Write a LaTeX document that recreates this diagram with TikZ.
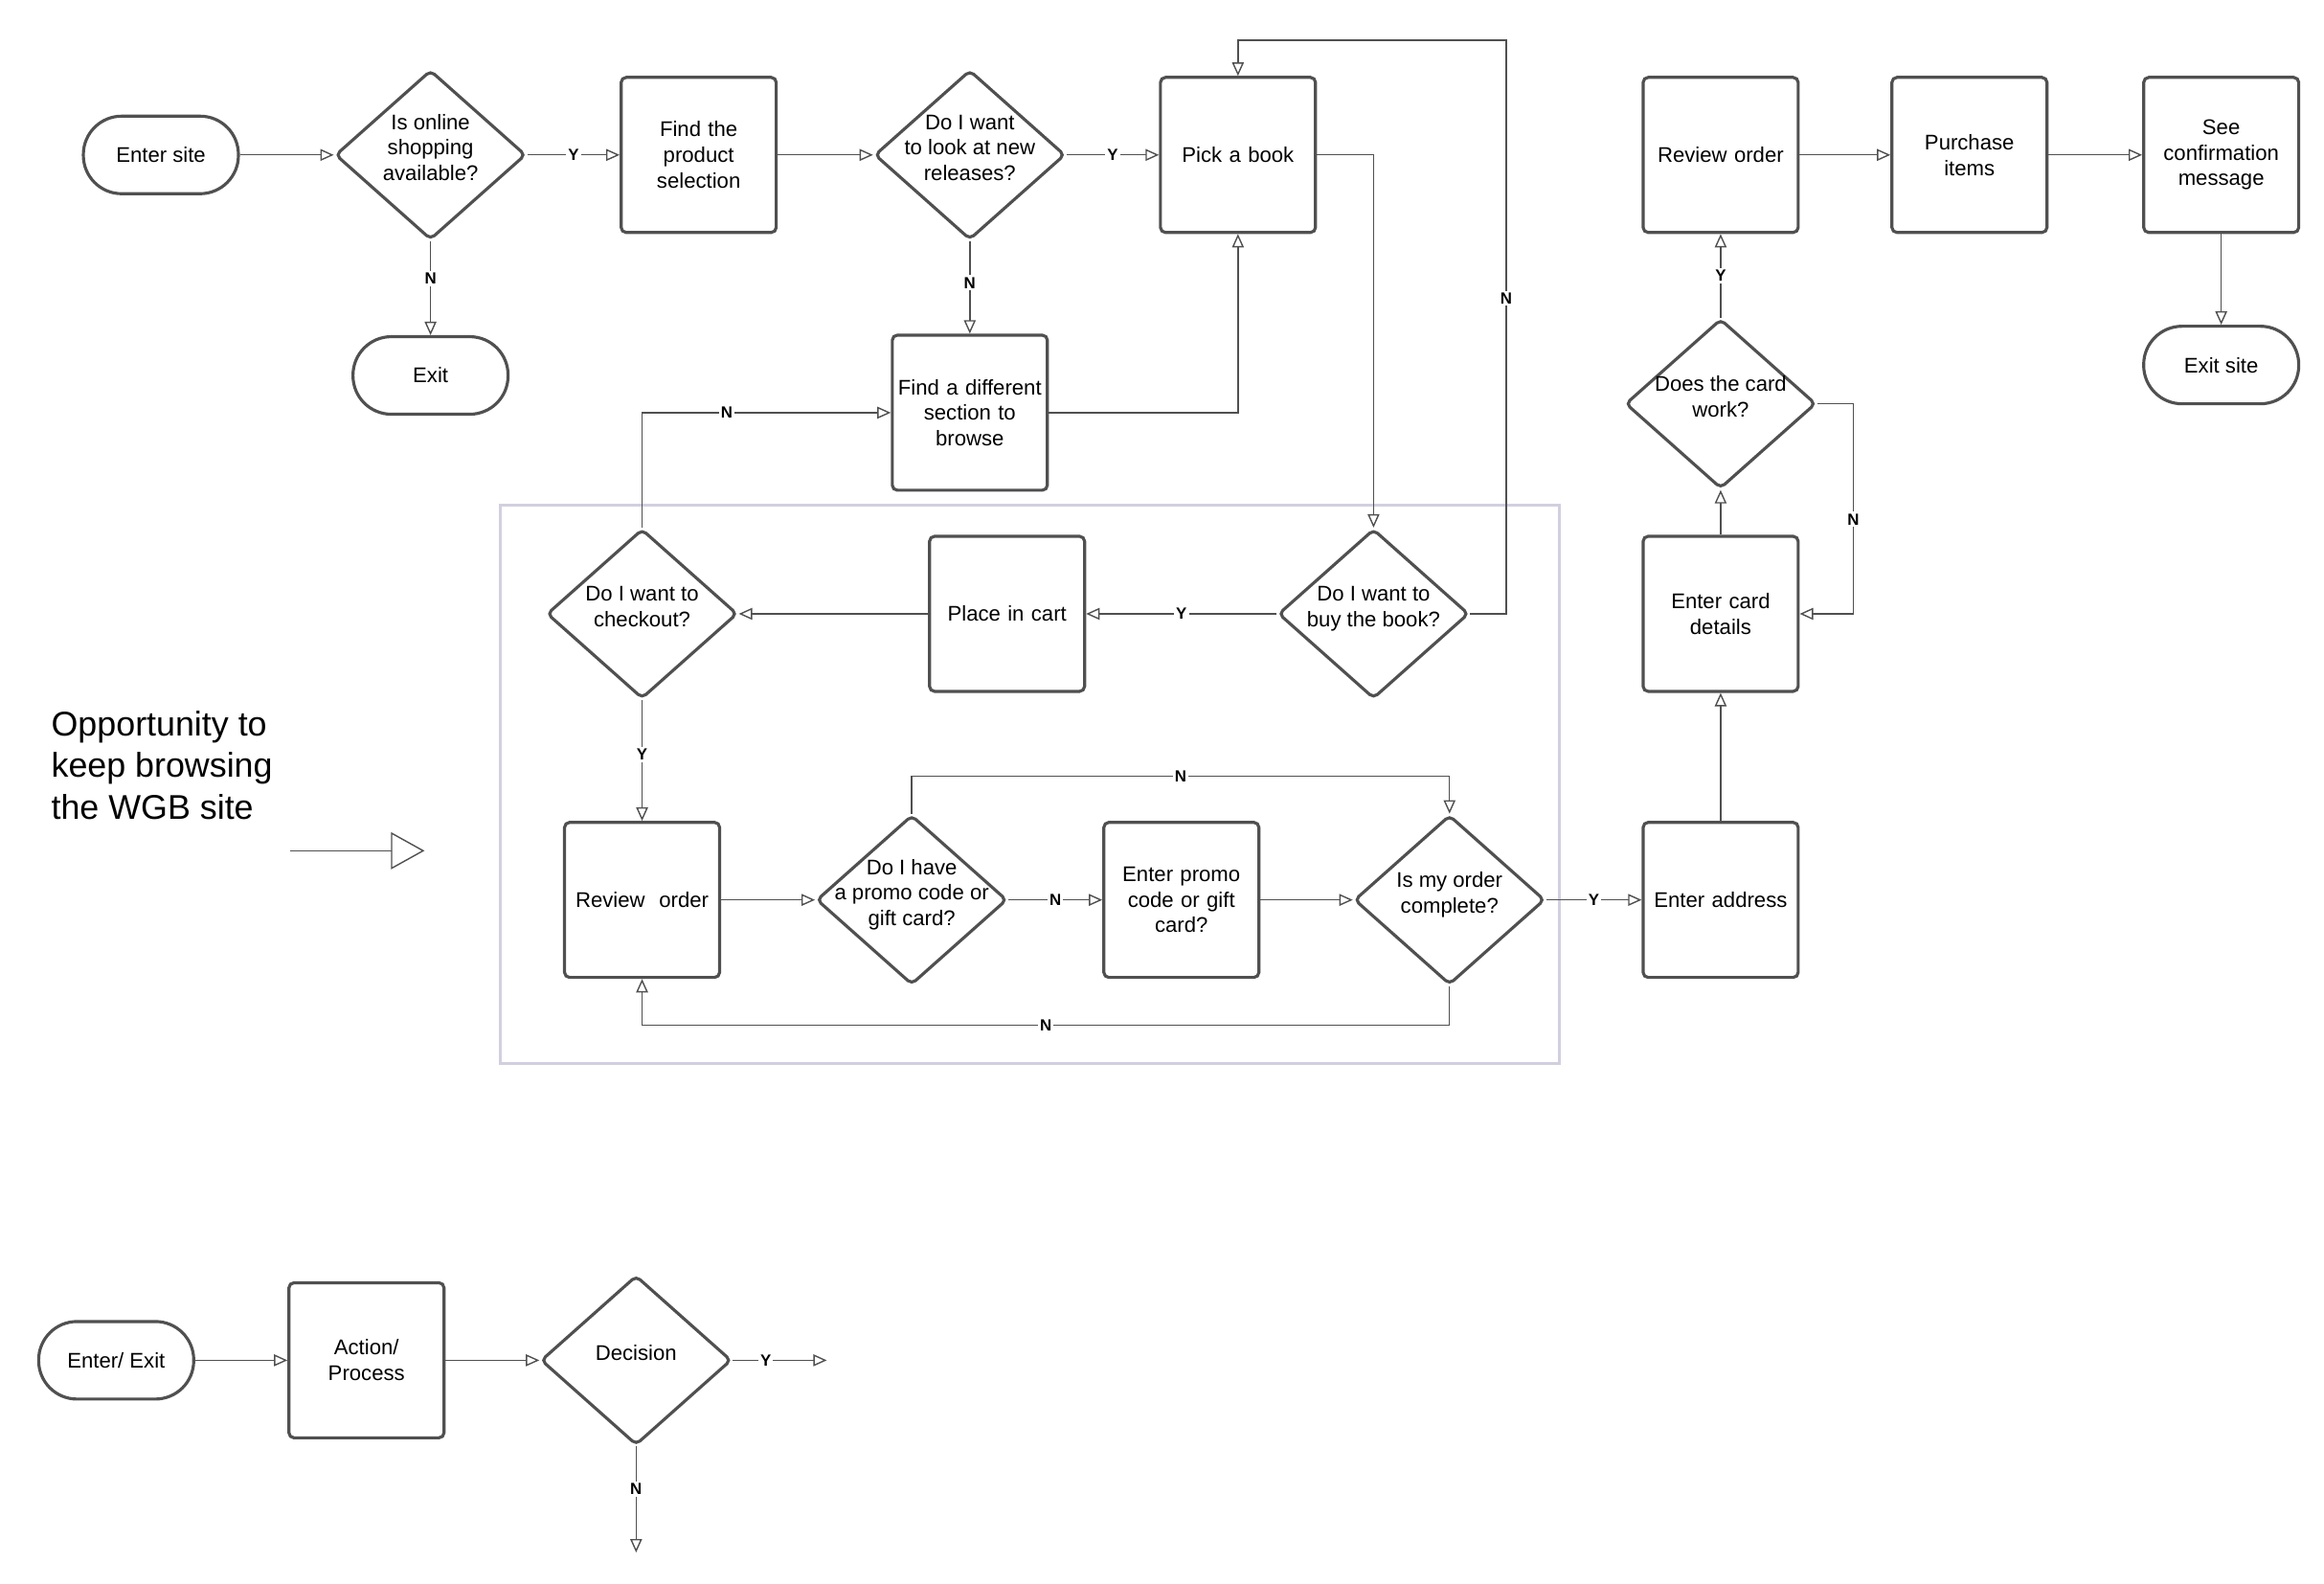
\documentclass[tikz,border=0pt]{standalone}
\usepackage{fontspec}
\setmainfont{Liberation Sans}
\usepackage{xcolor}
\usetikzlibrary{positioning,shapes.geometric,arrows.meta}
\definecolor{edge}{HTML}{505050}
\definecolor{frame}{HTML}{D2CFE0}
\newcommand{\dtext}[1]{\smash{\makebox[0pt]{\begin{tabular}{@{}c@{}}#1\end{tabular}}}}
\tikzstyle{process}=[rectangle, draw=edge, line width=0.9pt, rounded corners=1.5pt,
        minimum width=1.62cm, minimum height=1.62cm, text width=1.5cm, align=center,
        inner sep=0pt, font=\fontsize{6.3}{7.6}\selectfont]
\tikzstyle{terminal}=[rectangle, draw=edge, line width=0.9pt, rounded corners=0.4cm,
        minimum width=1.62cm, minimum height=0.81cm, align=center,
        inner sep=0pt, font=\fontsize{6.3}{7.6}\selectfont]
\tikzstyle{choice}=[diamond, draw=edge, line width=0.9pt, rounded corners=1.5pt,
        minimum width=1.99cm, minimum height=1.77cm, inner sep=0pt,
        font=\fontsize{6.3}{7.6}\selectfont]
\tikzstyle{flow}=[draw=edge, line width=0.4pt, -{Triangle[open,length=4pt,width=3.5pt]}]
\tikzstyle{lbl}=[fill=white, inner sep=0.6pt, font=\fontsize{4.8}{5}\selectfont\bfseries]

\begin{document}
\begin{tikzpicture}[x=0.01556cm, y=-0.01556cm]
        \useasboundingbox (0,0) rectangle (1560,1063);
        % highlighted area
        \draw[frame, line width=0.9pt] (336,339) rectangle (1047,714);
        \node (note) [anchor=north west, align=left, inner sep=0pt,
          font=\fontsize{10.2}{12.3}\selectfont] at (34,477)
          {Opportunity to\\keep browsing\\the WGB site};
        \coordinate (noteA) at (195,571);
        \coordinate (noteB) at (285,571);
        \draw[draw=edge, line width=0.4pt, -{Triangle[open,length=10pt,width=11pt]}] (noteA) -- (noteB);

        % top row
        \node (enter) [terminal] at (108,104) {Enter site};
        \node (online) [choice] at (289,104) {\dtext{Is online\\shopping\\available?}};
        \node (exit) [terminal] at (289,252) {Exit};
        \node (find) [process] at (469,104) {Find the\\product\\selection};
        \node (releases) [choice] at (651,104) {\dtext{Do I want\\to look at new\\releases?}};
        \node (pick) [process] at (831,104) {Pick a book};
        \node (section) [process] at (651,277) {Find a different\\section to\\browse};

        % framed area
        \node (checkout) [choice] at (431,412) {\dtext{Do I want to\\checkout?}};
        \node (cart) [process] at (676,412) {Place in cart};
        \node (buy) [choice] at (922,412) {\dtext{Do I want to\\buy the book?}};
        \node (review) [process] at (431,604) {Review~~order};
        \node (promo) [choice] at (612,604) {\dtext{Do I have\\a promo code or\\gift card?}};
        \node (code) [process] at (793,604) {Enter promo\\code or gift\\card?};
        \node (complete) [choice] at (973,604) {\dtext{Is my order\\complete?}};

        % payment
        \node (address) [process] at (1155,604) {Enter address};
        \node (details) [process] at (1155,412) {Enter card\\details};
        \node (card) [choice] at (1155,271) {\dtext{Does the card\\work?}};
        \node (final) [process] at (1155,104) {Review order};
        \node (purchase) [process] at (1322,104) {Purchase\\items};
        \node (confirm) [process] at (1491,104) {See\\confirmation\\message};
        \node (exitsite) [terminal] at (1491,245) {Exit site};

        % legend
        \node (legterm) [terminal] at (78,913) {Enter/ Exit};
        \node (legstep) [process] at (246,913) {Action/\\Process};
        \node (legchoice) [choice] at (427,913) {\dtext{Decision}};
        \coordinate (legY) at (555,913);
        \coordinate (legN) at (427,1042);

        % connectors
        \draw[flow] (enter) -- (online);
        \draw[flow] (online) -- node[lbl]{Y} (find);
        \draw[flow] (online) -- node[lbl, pos=0.4]{N} (exit);
        \draw[flow] (find) -- (releases);
        \draw[flow] (releases) -- node[lbl]{Y} (pick);
        \draw[flow] (releases) -- node[lbl, pos=0.45]{N} (section);
        \draw[flow] (section.east) -| (pick.south);
        \draw[flow] (pick.east) -| (buy.north);
        \draw[flow] (buy.east) -- (1011,412) -- node[lbl, pos=0.55]{N} (1011,27) -| (pick.north);
        \draw[flow] (buy) -- node[lbl]{Y} (cart);
        \draw[flow] (cart) -- (checkout);
        \draw[flow] (checkout.north) |- node[lbl, pos=0.67]{N} (section.west);
        \draw[flow] (checkout) -- node[lbl, pos=0.45]{Y} (review);
        \draw[flow] (review) -- (promo);
        \draw[flow] (promo) -- node[lbl]{N} (code);
        \draw[flow] (code) -- (complete);
        \draw[flow] (promo.north) -- (612,521) -- node[lbl]{N} (973,521) -- (complete.north);
        \draw[flow] (complete.south) -- (973,688) -- node[lbl]{N} (431,688) -- (review.south);
        \draw[flow] (complete) -- node[lbl]{Y} (address);
        \draw[flow] (address) -- (details);
        \draw[flow] (details) -- (card);
        \draw[flow] (card) -- node[lbl]{Y} (final);
        \draw[flow] (card.east) -- (1244,271) -- node[lbl, pos=0.55]{N} (1244,412) -- (details.east);
        \draw[flow] (final) -- (purchase);
        \draw[flow] (purchase) -- (confirm);
        \draw[flow] (confirm) -- (exitsite);
        \draw[flow] (legterm) -- (legstep);
        \draw[flow] (legstep) -- (legchoice);
        \draw[flow] (legchoice) -- node[lbl, pos=0.35]{Y} (legY);
        \draw[flow] (legchoice) -- node[lbl, pos=0.4]{N} (legN);
\end{tikzpicture}
\end{document}
